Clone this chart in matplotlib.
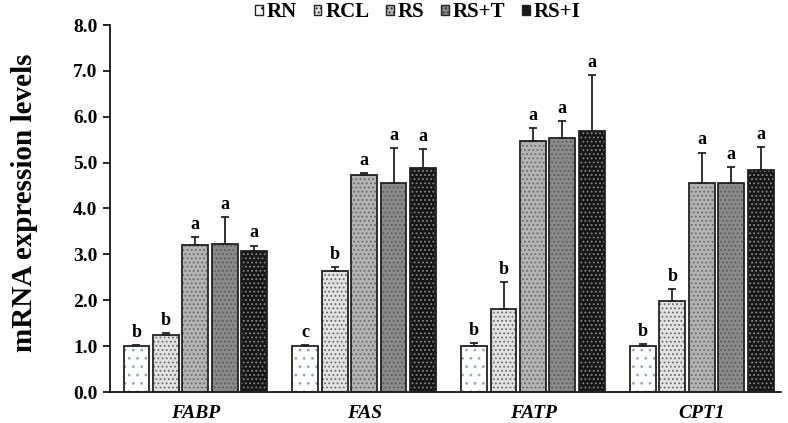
import matplotlib
matplotlib.use("Agg")
import matplotlib.pyplot as plt
from matplotlib.patches import Patch
import numpy as np

genes = ["FABP", "FAS", "FATP", "CPT1"]
groups = ["RN", "RCL", "RS", "RS+T", "RS+I"]

rn = [1.00, 1.00, 1.00, 1.00]
rn_err = [0.02, 0.03, 0.06, 0.05]
rcl = [1.24, 2.63, 1.82, 1.98]
rcl_err = [0.05, 0.10, 0.57, 0.26]
rs = [3.20, 4.73, 5.47, 4.55]
rs_err = [0.17, 0.04, 0.29, 0.67]
rst = [3.22, 4.55, 5.54, 4.55]
rst_err = [0.60, 0.76, 0.36, 0.35]
rsi = [3.08, 4.89, 5.68, 4.83]
rsi_err = [0.11, 0.41, 1.23, 0.50]

rn_letters = ["b", "c", "b", "b"]
rcl_letters = ["b", "b", "b", "b"]
rs_letters = ["a", "a", "a", "a"]
rst_letters = ["a", "a", "a", "a"]
rsi_letters = ["a", "a", "a", "a"]

yticks = [0, 1, 2, 3, 4, 5, 6, 7, 8]

means = [rn, rcl, rs, rst, rsi]
errs = [rn_err, rcl_err, rs_err, rst_err, rsi_err]
letters = [rn_letters, rcl_letters, rs_letters, rst_letters, rsi_letters]

faces = ["#ffffff", "#e2e2e2", "#b4b4b4", "#8a8a8a", "#161616"]
hatch_colors = ["#8aa6e0", "#6a6a6a", "#666666", "#5a5a5a", "#8a8a8a"]
hatches = ["..", "....", "....", "....", "...."]

plt.rcParams["font.family"] = ["Liberation Serif", "DejaVu Serif"]
plt.rcParams["hatch.linewidth"] = 0.8

fig = plt.figure(figsize=(7.88, 4.23), dpi=100)
ax = fig.add_axes([110 / 788, 1 - 392 / 423, (781 - 110) / 788, (392 - 25) / 423])

x = np.arange(len(genes))
pitch = 0.1741
width = 0.153

for i in range(5):
    pos = x + (i - 2) * pitch
    ax.bar(pos, means[i], width, color=faces[i], hatch=hatches[i],
           edgecolor=hatch_colors[i], linewidth=0, zorder=2)
    ax.bar(pos, means[i], width, fill=False, edgecolor="#222222",
           linewidth=1.3, zorder=3)
    ax.errorbar(pos, means[i], yerr=[np.zeros(len(genes)), errs[i]],
                fmt="none", ecolor="#222222", elinewidth=1.3, capsize=3,
                capthick=1.3, zorder=4)
    for j in range(len(genes)):
        ax.annotate(letters[i][j], (pos[j], means[i][j] + errs[i][j]),
                    xytext=(0, 3), textcoords="offset points",
                    ha="center", va="bottom", fontsize=13, fontweight="bold")

ax.set_ylim(0, 8)
ax.set_xlim(-0.505, 3.469)
ax.set_yticks(yticks)
ax.set_yticklabels([f"{t:.1f}" for t in yticks], fontsize=14, fontweight="bold")
ax.tick_params(axis="y", direction="out", length=5, width=1.2, pad=4)
ax.set_xticks(x)
ax.set_xticklabels(genes, fontsize=14, fontweight="bold", fontstyle="italic")
ax.tick_params(axis="x", length=0, pad=9)
for s in ["top", "right"]:
    ax.spines[s].set_visible(False)
ax.spines["left"].set_linewidth(1.2)
ax.spines["bottom"].set_linewidth(1.2)
ax.set_ylabel("mRNA expression levels", fontsize=21, fontweight="bold")
ax.yaxis.set_label_coords(-0.108, 0.516)

handles = [Patch(facecolor=faces[i], edgecolor="#222222", hatch=hatches[i],
                 linewidth=1.0) for i in range(5)]
fig.legend(handles, groups, loc="center", bbox_to_anchor=(418 / 788, 1 - 12 / 423),
           ncol=5, frameon=False, handlelength=0.36, handleheight=0.36,
           handletextpad=0.2, columnspacing=0.8,
           prop={"size": 15, "weight": "bold"})

fig.savefig("out.png", dpi=100)
